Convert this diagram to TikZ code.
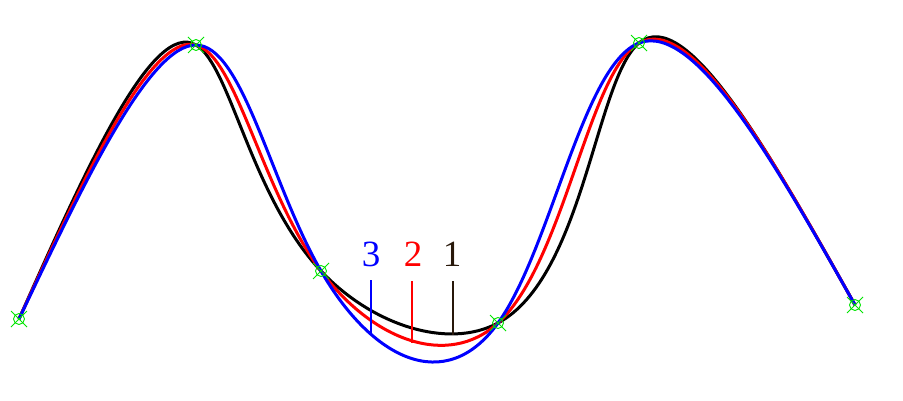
\documentclass[tikz,border=0pt]{standalone}
\usepackage{fontspec}
\setmainfont{Liberation Serif}
% natural cubic spline solver (first-derivative form, Thomas algorithm)
\newcommand\splsolve{%
 \pgfmathsetmacro\dA{3*(\PB-\PA)/\aA}%
 \pgfmathsetmacro\dB{3*(\aB*(\PB-\PA)/\aA+\aA*(\PC-\PB)/\aB)}%
 \pgfmathsetmacro\dC{3*(\aC*(\PC-\PB)/\aB+\aB*(\PD-\PC)/\aC)}%
 \pgfmathsetmacro\dD{3*(\aD*(\PD-\PC)/\aC+\aC*(\PE-\PD)/\aD)}%
 \pgfmathsetmacro\dE{3*(\aE*(\PE-\PD)/\aD+\aD*(\PF-\PE)/\aE)}%
 \pgfmathsetmacro\dF{3*(\PF-\PE)/\aE}%
 \pgfmathsetmacro\qA{\dA/2}%
 \pgfmathsetmacro\qB{(\dB-\aB*\qA)/\mB}%
 \pgfmathsetmacro\qC{(\dC-\aC*\qB)/\mC}%
 \pgfmathsetmacro\qD{(\dD-\aD*\qC)/\mD}%
 \pgfmathsetmacro\qE{(\dE-\aE*\qD)/\mE}%
 \pgfmathsetmacro\qF{(\dF-\qE)/\mF}%
 \pgfmathsetmacro\DF{\qF}%
 \pgfmathsetmacro\DE{\qE-\cpE*\DF}%
 \pgfmathsetmacro\DD{\qD-\cpD*\DE}%
 \pgfmathsetmacro\DC{\qC-\cpC*\DD}%
 \pgfmathsetmacro\DB{\qB-\cpB*\DC}%
 \pgfmathsetmacro\DA{\qA-\cpA*\DB}%
}
\newcommand\splcurve[6]{%
 \pgfmathsetmacro\aA{#1}\pgfmathsetmacro\aB{#2}\pgfmathsetmacro\aC{#3}%
 \pgfmathsetmacro\aD{#4}\pgfmathsetmacro\aE{#5}%
 \pgfmathsetmacro\cpA{0.5}%
 \pgfmathsetmacro\mB{2*(\aA+\aB)-\aB*\cpA}\pgfmathsetmacro\cpB{\aA/\mB}%
 \pgfmathsetmacro\mC{2*(\aB+\aC)-\aC*\cpB}\pgfmathsetmacro\cpC{\aB/\mC}%
 \pgfmathsetmacro\mD{2*(\aC+\aD)-\aD*\cpC}\pgfmathsetmacro\cpD{\aC/\mD}%
 \pgfmathsetmacro\mE{2*(\aD+\aE)-\aE*\cpD}\pgfmathsetmacro\cpE{\aD/\mE}%
 \pgfmathsetmacro\mF{2-\cpE}%
 \let\PA\XA\let\PB\XB\let\PC\XC\let\PD\XD\let\PE\XE\let\PF\XF
 \splsolve
 \let\DxA\DA\let\DxB\DB\let\DxC\DC\let\DxD\DD\let\DxE\DE\let\DxF\DF
 \let\PA\YA\let\PB\YB\let\PC\YC\let\PD\YD\let\PE\YE\let\PF\YF
 \splsolve
 \let\DyA\DA\let\DyB\DB\let\DyC\DC\let\DyD\DD\let\DyE\DE\let\DyF\DF
 \draw[curve,#6] (p1)
  .. controls ({\XA+\DxA*\aA/3},{\YA+\DyA*\aA/3}) and ({\XB-\DxB*\aA/3},{\YB-\DyB*\aA/3}) .. (p2)
  .. controls ({\XB+\DxB*\aB/3},{\YB+\DyB*\aB/3}) and ({\XC-\DxC*\aB/3},{\YC-\DyC*\aB/3}) .. (p3)
  .. controls ({\XC+\DxC*\aC/3},{\YC+\DyC*\aC/3}) and ({\XD-\DxD*\aC/3},{\YD-\DyD*\aC/3}) .. (p4)
  .. controls ({\XD+\DxD*\aD/3},{\YD+\DyD*\aD/3}) and ({\XE-\DxE*\aD/3},{\YE-\DyE*\aD/3}) .. (p5)
  .. controls ({\XE+\DxE*\aE/3},{\YE+\DyE*\aE/3}) and ({\XF-\DxF*\aE/3},{\YF-\DyF*\aE/3}) .. (p6);
}
\begin{document}
\begin{tikzpicture}[x=1pt,y=-1pt,
  curve/.style={line width=3pt,line join=round},
  mk/.style={draw=green!90!black,line width=0.9pt},
  lab/.style={font=\fontsize{37}{37}\selectfont,inner sep=0pt,anchor=base},
  tick/.style={line width=2.5pt}]
\definecolor{darkb}{RGB}{40,24,10}
\useasboundingbox (0,0) rectangle (903,401);
\fill[white] (0,0) rectangle (903,401);
\def\XA{19}\def\YA{319}
\def\XB{196}\def\YB{45}
\def\XC{321}\def\YC{271}
\def\XD{498}\def\YD{323}
\def\XE{639}\def\YE{43}
\def\XF{855}\def\YF{305}
\coordinate (p1) at (\XA,\YA);
\coordinate (p2) at (\XB,\YB);
\coordinate (p3) at (\XC,\YC);
\coordinate (p4) at (\XD,\YD);
\coordinate (p5) at (\XE,\YE);
\coordinate (p6) at (\XF,\YF);
\pgfmathsetmacro\LA{veclen(\XB-\XA,\YB-\YA)/100}
\pgfmathsetmacro\LB{veclen(\XC-\XB,\YC-\YB)/100}
\pgfmathsetmacro\LC{veclen(\XD-\XC,\YD-\YC)/100}
\pgfmathsetmacro\LD{veclen(\XE-\XD,\YE-\YD)/100}
\pgfmathsetmacro\LE{veclen(\XF-\XE,\YF-\YE)/100}
% 1: chord length, 2: centripetal, 3: uniform
\splcurve{\LA}{\LB}{\LC}{\LD}{\LE}{black}
\splcurve{sqrt(\LA)}{sqrt(\LB)}{sqrt(\LC)}{sqrt(\LD)}{sqrt(\LE)}{red}
\splcurve{1}{1}{1}{1}{1}{blue}
\foreach \p in {p1,p2,p3,p4,p5,p6}{
  \draw[mk] (\p) circle (5.5);
  \draw[mk,shift={(\p)}] (-8,-8) -- (8,8) (-8,8) -- (8,-8);
}
\node[lab,text=blue] (l3) at (371,266) {3};
\node[lab,text=red] (l2) at (413,266) {2};
\node[lab,text=darkb] (l1) at (452,266) {1};
\coordinate (t3) at (371,280);
\coordinate (t2) at (412,281);
\coordinate (t1) at (453,281);
\coordinate (b3) at (371,335);
\coordinate (b2) at (412,343);
\coordinate (b1) at (453,335);
\draw[tick,blue] (t3) -- (b3);
\draw[tick,red] (t2) -- (b2);
\draw[tick,darkb] (t1) -- (b1);
\end{tikzpicture}
\end{document}
